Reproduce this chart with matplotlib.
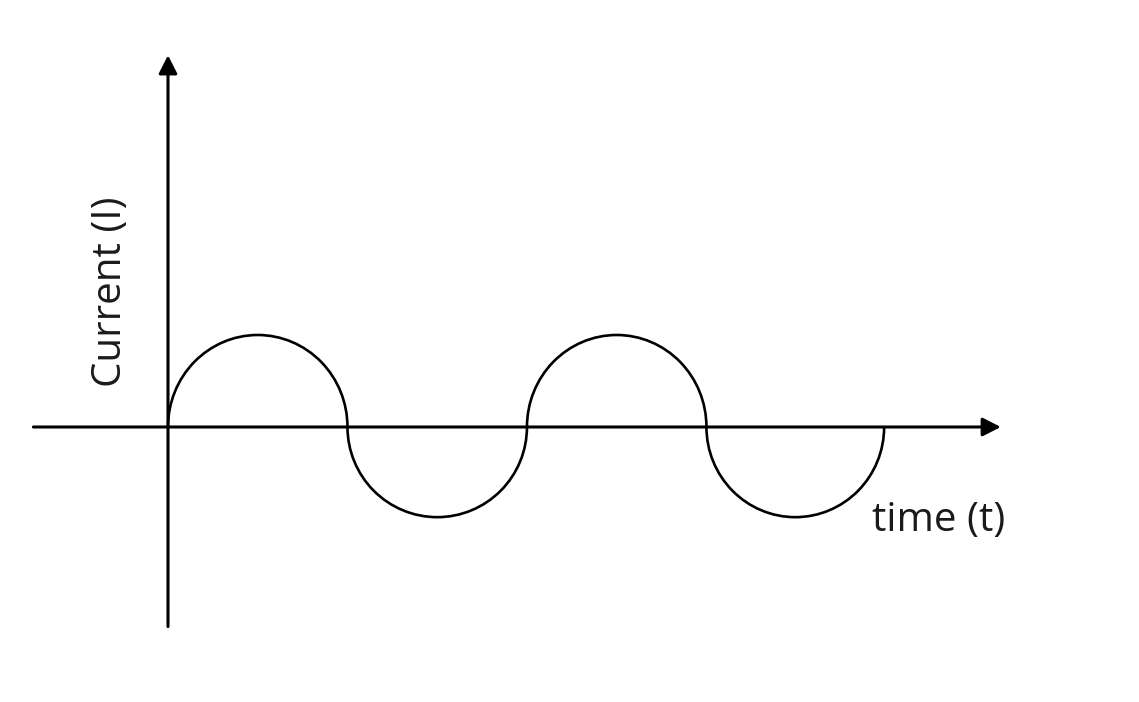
import matplotlib.pyplot as plt
from matplotlib.patches import Arc

# half-cycles of the current waveform (time in half-periods, current in amplitude units)
lobe_start = [0.0, 1.0, 2.0, 3.0]
lobe_width = [1.0, 1.0, 1.0, 0.99]
lobe_sign = [1, -1, 1, -1]
lobe_amp = [1.0, 0.98, 1.0, 0.98]

x_label = "time (t)"
y_label = "Current (I)"

# axis extents (same units)
t_axis = (-0.75, 4.64)
i_axis = (-2.17, 4.04)

fig = plt.figure(figsize=(11.39, 7.02), dpi=100)
ax = fig.add_axes([0, 0, 1, 1])
ax.set_xlim(-0.936, 5.41)
ax.set_ylim(-2.989, 4.641)
ax.axis("off")

arrow = dict(arrowstyle="-|>,head_length=0.55,head_width=0.28", lw=2.2,
             color="black", shrinkA=0, shrinkB=0, mutation_scale=20)
ax.annotate("", xy=(t_axis[1], 0), xytext=(t_axis[0], 0), arrowprops=arrow)
ax.annotate("", xy=(0, i_axis[1]), xytext=(0, i_axis[0]), arrowprops=arrow)

for start, w, sign, amp in zip(lobe_start, lobe_width, lobe_sign, lobe_amp):
    t1, t2 = (0, 180) if sign > 0 else (180, 360)
    ax.add_patch(Arc((start + w / 2, 0), w, 2 * amp, theta1=t1, theta2=t2,
                     lw=1.9, color="black"))

font = ["Open Sans", "DejaVu Sans"]
ax.text(3.92, -1.02, x_label, fontsize=29, family=font, ha="left", va="center",
        color="#1a1a1a")
ax.text(-0.32, 1.47, y_label, fontsize=29, family=font, rotation=90,
        ha="center", va="center", color="#1a1a1a")

fig.savefig("out.png", dpi=100)
